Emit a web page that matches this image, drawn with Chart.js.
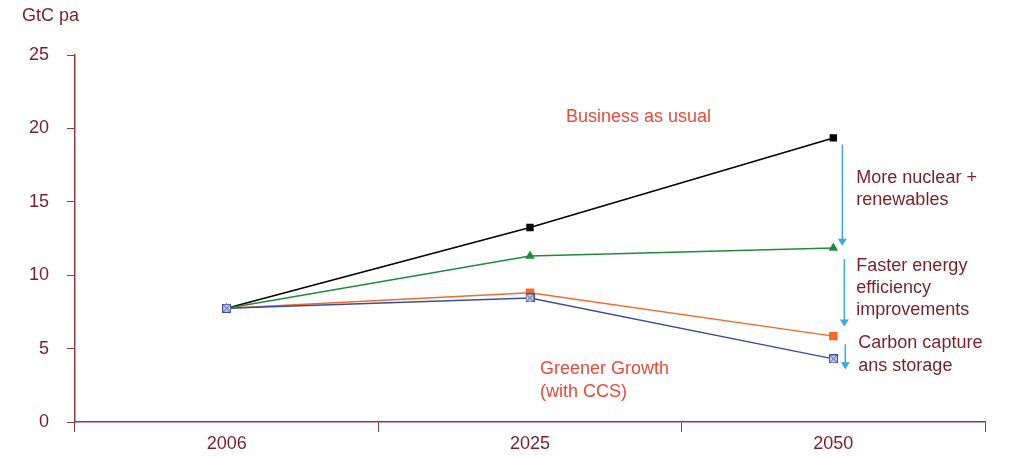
<!DOCTYPE html>
<html lang="en">
  <head>
    <meta charset="UTF-8" />
    <title>GtC pa scenarios</title>
    <script src="https://cdn.jsdelivr.net/npm/chart.js"></script>
    <style>
      body { margin: 0; background: #fff; }
      #wrap { width: 1013px; height: 456px; position: relative; }
    </style>
  </head>
  <body>
    <div id="wrap"><canvas id="myChart"></canvas></div>

    <script>
      // data
      const years = ["2006", "2025", "2050"];
      const businessAsUsual = [7.75, 13.25, 19.35];
      const nuclearRenewables = [7.75, 11.3, 11.85];
      const efficiency = [7.75, 8.8, 5.85];
      const greenerGrowth = [7.75, 8.45, 4.3];
      const yTicks = [0, 5, 10, 15, 20, 25];

      const darkRed = "#7a1e2c";
      const labelRed = "#ec4a3a";
      const arrowBlue = "#3aa9dc";
      const font = "Liberation Sans, Arial, sans-serif";

      // blue square with a cross, like the original marker
      function crossSquare() {
        const c = document.createElement("canvas");
        c.width = 9;
        c.height = 9;
        const g = c.getContext("2d");
        g.fillStyle = "#c9d0ea";
        g.fillRect(0, 0, 9, 9);
        g.strokeStyle = "#3b4d9e";
        g.lineWidth = 1;
        g.strokeRect(0.5, 0.5, 8, 8);
        g.beginPath();
        g.moveTo(1.5, 1.5); g.lineTo(7.5, 7.5);
        g.moveTo(7.5, 1.5); g.lineTo(1.5, 7.5);
        g.stroke();
        return c;
      }

      // texts and arrows placed with the chart's own scales
      const notes = {
        id: "notes",
        afterDatasetsDraw(chart) {
          const ctx = chart.ctx;
          const x = chart.scales.x;
          const y = chart.scales.y;
          const x25 = x.getPixelForValue(1);
          const x50 = x.getPixelForValue(2);
          ctx.save();
          ctx.font = "18px " + font;
          ctx.textBaseline = "middle";
          ctx.textAlign = "left";

          ctx.fillStyle = darkRed;
          ctx.fillText("GtC pa", 22, 16);

          ctx.fillStyle = labelRed;
          ctx.fillText("Business as usual", x25 + 36, y.getPixelForValue(20.75));
          ctx.fillText("Greener Growth", x25 + 10, y.getPixelForValue(3.6));
          ctx.fillText("(with CCS)", x25 + 10, y.getPixelForValue(2.05));

          ctx.fillStyle = darkRed;
          const lines = [
            ["More nuclear +", 16.6],
            ["renewables", 15.1],
            ["Faster energy", 10.6],
            ["efficiency", 9.1],
            ["improvements", 7.6],
            ["Carbon capture", 5.35],
            ["ans storage", 3.8],
          ];
          lines.forEach(([t, v], i) => {
            ctx.fillText(t, x50 + (i >= 5 ? 25 : 23), y.getPixelForValue(v));
          });

          // arrows
          const arrows = [
            [9, 18.9, 12.0],
            [11, 11.1, 6.5],
            [12, 5.3, 3.6],
          ];
          ctx.strokeStyle = arrowBlue;
          ctx.fillStyle = arrowBlue;
          ctx.lineWidth = 1.5;
          arrows.forEach(([dx, from, to]) => {
            const ax = x50 + dx;
            const y1 = y.getPixelForValue(from);
            const y2 = y.getPixelForValue(to);
            ctx.beginPath();
            ctx.moveTo(ax, y1);
            ctx.lineTo(ax, y2 - 6);
            ctx.stroke();
            ctx.beginPath();
            ctx.moveTo(ax - 4.5, y2 - 7);
            ctx.lineTo(ax + 4.5, y2 - 7);
            ctx.lineTo(ax, y2);
            ctx.closePath();
            ctx.fill();
          });
          ctx.restore();
        },
      };

      function line(data, color, style, size) {
        return {
          data: data,
          borderColor: color,
          backgroundColor: color,
          borderWidth: 1.5,
          pointStyle: style,
          pointRadius: size,
          pointBorderWidth: 0,
          tension: 0,
        };
      }

      new Chart(document.getElementById("myChart"), {
        type: "line",
        data: {
          labels: years,
          datasets: [
            line(greenerGrowth, "#3b4d9e", crossSquare(), 4.5),
            line(efficiency, "#f26b2b", "rect", 6),
            line(nuclearRenewables, "#1f8a3f", "triangle", 5.5),
            line(businessAsUsual, "#000000", "rect", 5.2),
          ],
        },
        options: {
          responsive: true,
          maintainAspectRatio: false,
          animation: false,
          layout: { padding: { top: 55, right: 28, left: 0, bottom: 0 } },
          plugins: { legend: { display: false }, tooltip: { enabled: false } },
          scales: {
            x: {
              offset: true,
              border: { color: "#8c3a48", width: 1.5 },
              grid: {
                offset: true,
                drawOnChartArea: false,
                tickLength: 10,
                color: "#8c3a48",
              },
              ticks: { color: darkRed, font: { family: font, size: 18 }, padding: 1 },
              afterFit(s) { s.height = 34; },
            },
            y: {
              min: 0,
              max: 25,
              afterBuildTicks(s) { s.ticks = yTicks.map((v) => ({ value: v })); },
              border: { color: "#8c3a48", width: 1.5 },
              grid: {
                drawOnChartArea: false,
                tickLength: 8,
                color: "#8c3a48",
              },
              ticks: { color: darkRed, font: { family: font, size: 18 }, padding: 18 },
              afterFit(s) { s.width = 75; },
            },
          },
        },
        plugins: [notes],
      });
    </script>
  </body>
</html>
